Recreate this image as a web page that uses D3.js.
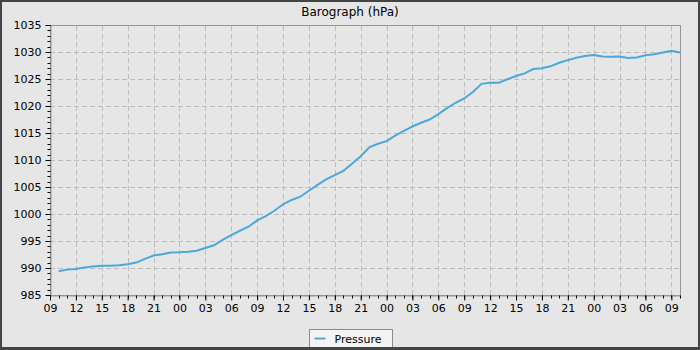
<!DOCTYPE html>
<html>
<head>
<meta charset="utf-8">
<script src="https://cdn.jsdelivr.net/npm/d3@7"></script>
<style>
  body { margin: 0; background: #fff; }
  svg { display: block; font-family: "DejaVu Sans", sans-serif; }
</style>
</head>
<body>
<div id="chart"></div>
<script>
// barograph, hourly readings from 10:00 day 1 to 10:00 day 4
var startTime = '2024-01-01T10:00:00';
var pressure = [
  989.4, 989.7, 989.8, 990.1, 990.3, 990.4, 990.4, 990.5, 990.7, 991.0, 991.7, 992.3,
  992.55, 992.85, 992.9, 993.0, 993.2, 993.7, 994.2, 995.2, 996.1, 996.9, 997.65, 998.8,
  999.6, 1000.6, 1001.8, 1002.6, 1003.2, 1004.3, 1005.4, 1006.4, 1007.2, 1008.0, 1009.3, 1010.7,
  1012.35, 1013.0, 1013.5, 1014.5, 1015.4, 1016.2, 1016.9, 1017.5, 1018.5, 1019.6, 1020.6, 1021.4,
  1022.6, 1024.1, 1024.3, 1024.3, 1024.95, 1025.55, 1026.05, 1026.85, 1027.0, 1027.35, 1028.0, 1028.5,
  1028.95, 1029.25, 1029.45, 1029.15, 1029.1, 1029.15, 1028.9, 1029.0, 1029.4, 1029.6, 1029.9, 1030.25,
  1029.9
];
var yDomain = [985, 1035];
var xStart = '2024-01-01T09:00:00';
var xEnd = '2024-01-04T10:00:00';
var title = 'Barograph (hPa)';
var seriesName = 'Pressure';

var t0 = new Date(startTime);
var data = pressure.map((v, i) => ({ t: d3.timeHour.offset(t0, i), v: v }));

var width = 700, height = 350;
var margin = { top: 25, right: 20, bottom: 55, left: 50 };
var lineColor = '#4aa8dc';

var svg = d3.select('#chart').append('svg')
    .attr('width', width)
    .attr('height', height);

// background
svg.append('rect')
    .attr('x', 0).attr('y', 0)
    .attr('width', width).attr('height', height)
    .attr('fill', '#e6e6e6');

var x = d3.scaleTime()
    .domain([new Date(xStart), new Date(xEnd)])
    .range([margin.left, width - margin.right]);

var y = d3.scaleLinear()
    .domain(yDomain)
    .range([height - margin.bottom, margin.top]);

var majorX = d3.timeHour.every(3).range(x.domain()[0], d3.timeHour.offset(x.domain()[1], 1));
var minorX = d3.timeHour.every(1).range(x.domain()[0], d3.timeHour.offset(x.domain()[1], 1));
var majorY = d3.range(yDomain[0], yDomain[1] + 1, 5);
var minorY = d3.range(yDomain[0], yDomain[1] + 1, 1);

// grid
var grid = svg.append('g')
    .attr('stroke', '#bdbdbd')
    .attr('stroke-width', 1)
    .attr('stroke-dasharray', '5,3');

grid.selectAll('.gx').data(majorX).enter().append('line')
    .attr('x1', d => Math.round(x(d)) + 0.5).attr('x2', d => Math.round(x(d)) + 0.5)
    .attr('y1', y.range()[0]).attr('y2', y.range()[1]);

grid.selectAll('.gy').data(majorY).enter().append('line')
    .attr('y1', d => Math.round(y(d)) + 0.5).attr('y2', d => Math.round(y(d)) + 0.5)
    .attr('x1', x.range()[0]).attr('x2', x.range()[1]);

// plot border
svg.append('rect')
    .attr('x', margin.left + 0.5).attr('y', margin.top + 0.5)
    .attr('width', width - margin.left - margin.right)
    .attr('height', height - margin.top - margin.bottom)
    .attr('fill', 'none')
    .attr('stroke', '#959595');

// axes
var xAxis = svg.append('g')
    .attr('transform', 'translate(0,' + (height - margin.bottom + 0.5) + ')');
xAxis.call(d3.axisBottom(x).tickValues(majorX).tickFormat(d3.timeFormat('%H')).tickSize(5).tickSizeOuter(0).tickPadding(4));
xAxis.append('g').selectAll('line').data(minorX).enter().append('line')
    .attr('x1', d => Math.round(x(d)) + 0.5).attr('x2', d => Math.round(x(d)) + 0.5)
    .attr('y1', 0).attr('y2', 3)
    .attr('stroke', '#000');

var yAxis = svg.append('g')
    .attr('transform', 'translate(' + (margin.left + 0.5) + ',0)');
yAxis.call(d3.axisLeft(y).tickValues(majorY).tickFormat(d3.format('d')).tickSize(5).tickSizeOuter(0).tickPadding(4));
yAxis.append('g').selectAll('line').data(minorY).enter().append('line')
    .attr('y1', d => Math.round(y(d)) + 0.5).attr('y2', d => Math.round(y(d)) + 0.5)
    .attr('x1', 0).attr('x2', -3)
    .attr('stroke', '#000');

[xAxis, yAxis].forEach(a => {
    a.select('.domain').attr('stroke', '#959595');
    a.selectAll('.tick line').attr('stroke', '#000');
    a.selectAll('.tick text')
        .attr('fill', '#000')
        .style('font-size', '11px')
        .style('font-family', '"DejaVu Sans", sans-serif');
});

// series
svg.append('path')
    .datum(data)
    .attr('fill', 'none')
    .attr('stroke', lineColor)
    .attr('stroke-width', 2)
    .attr('d', d3.line().x(d => x(d.t)).y(d => y(d.v)));

// title
svg.append('text')
    .attr('x', width / 2)
    .attr('y', 16)
    .attr('text-anchor', 'middle')
    .style('font-size', '12px')
    .text(title);

// legend
var lg = svg.append('g').attr('transform', 'translate(309.5,329.5)');
lg.append('rect')
    .attr('width', 83).attr('height', 19)
    .attr('fill', '#f4f4f4')
    .attr('stroke', '#8a8a8a');
lg.append('line')
    .attr('x1', 5).attr('x2', 16)
    .attr('y1', 9).attr('y2', 9)
    .attr('stroke', lineColor)
    .attr('stroke-width', 2);
lg.append('text')
    .attr('x', 25).attr('y', 13)
    .style('font-size', '11px')
    .text(seriesName);

// outer frame
svg.append('rect')
    .attr('x', 1).attr('y', 1)
    .attr('width', width - 2).attr('height', height - 2)
    .attr('fill', 'none')
    .attr('stroke', '#444')
    .attr('stroke-width', 2);
svg.append('line')
    .attr('x1', 0).attr('x2', width)
    .attr('y1', height - 2.5).attr('y2', height - 2.5)
    .attr('stroke', '#444');
</script>
</body>
</html>
